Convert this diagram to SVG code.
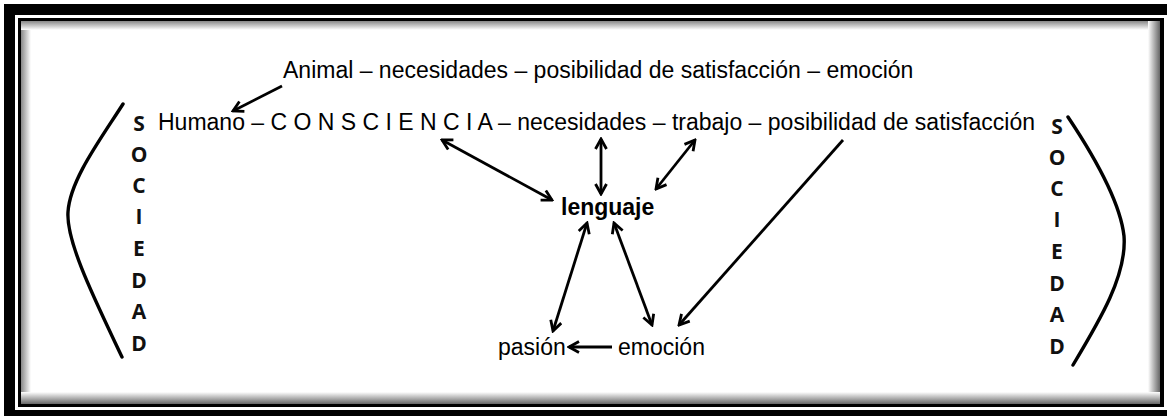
<svg xmlns="http://www.w3.org/2000/svg" width="1167" height="416" viewBox="0 0 1167 416">
  <style>
    .t { font-family: "Liberation Sans", Arial, sans-serif; font-size: 23px; fill: #000; }
    .b { font-weight: bold; }
    .soc { font-family: "Open Sans", Lato, sans-serif; font-weight: bold; font-size: 21px; fill: #111; text-anchor: middle; }
    .arr { stroke: #000; stroke-width: 2.8; fill: none; }
    .par { stroke: #000; stroke-width: 3.4; fill: none; stroke-linecap: round; }
  </style>
  <defs>
    <marker id="ah" viewBox="0 0 14 14" refX="12" refY="7" markerWidth="14" markerHeight="14" markerUnits="userSpaceOnUse" orient="auto-start-reverse">
      <path d="M2,1.5 L12,7 L2,12.5" fill="none" stroke="#000" stroke-width="2.8"/>
    </marker>
    <linearGradient id="gL" x1="0" y1="0" x2="1" y2="0">
      <stop offset="0" stop-color="#888"/>
      <stop offset="1" stop-color="#fff"/>
    </linearGradient>
    <linearGradient id="gR" x1="1" y1="0" x2="0" y2="0">
      <stop offset="0" stop-color="#666"/>
      <stop offset="1" stop-color="#fff"/>
    </linearGradient>
    <linearGradient id="gT" x1="0" y1="0" x2="0" y2="1">
      <stop offset="0" stop-color="#888"/>
      <stop offset="1" stop-color="#fff"/>
    </linearGradient>
    <linearGradient id="gB" x1="0" y1="1" x2="0" y2="0">
      <stop offset="0" stop-color="#666"/>
      <stop offset="1" stop-color="#fff"/>
    </linearGradient>
  </defs>

  <g id="frame">
    <rect x="0" y="0" width="1167" height="416" fill="#fff"/>
    <rect x="4" y="4" width="1180" height="430" fill="#000"/>
    <rect x="15" y="15" width="1160" height="395" fill="#fff"/>
    <rect x="18" y="18" width="1146" height="389" fill="#000"/>
    <rect x="21" y="21" width="1139" height="383" fill="#fff"/>
    <rect x="21" y="21" width="10" height="383" fill="url(#gL)"/>
    <rect x="21" y="21" width="1139" height="9" fill="url(#gT)"/>
    <rect x="1148" y="21" width="12" height="383" fill="url(#gR)"/>
    <rect x="21" y="392" width="1139" height="12" fill="url(#gB)"/>
  </g>

  <g id="connectors">
    <line class="arr" x1="282" y1="86" x2="233" y2="111" marker-end="url(#ah)"/>
    <line class="arr" x1="442" y1="140" x2="552" y2="200" marker-start="url(#ah)" marker-end="url(#ah)"/>
    <line class="arr" x1="601" y1="139" x2="601" y2="194" marker-start="url(#ah)" marker-end="url(#ah)"/>
    <line class="arr" x1="695" y1="140" x2="656" y2="189" marker-start="url(#ah)" marker-end="url(#ah)"/>
    <line class="arr" x1="843" y1="140" x2="679" y2="325" marker-end="url(#ah)"/>
    <line class="arr" x1="587" y1="223" x2="553" y2="331" marker-start="url(#ah)" marker-end="url(#ah)"/>
    <line class="arr" x1="614" y1="223" x2="652" y2="325" marker-start="url(#ah)" marker-end="url(#ah)"/>
    <line class="arr" x1="612" y1="347" x2="569" y2="347" marker-end="url(#ah)"/>
  </g>

  <g id="node-animal">
    <text class="t" x="283" y="78">Animal – necesidades – posibilidad de satisfacción – emoción</text>
  </g>
  <g id="node-humano">
    <text class="t" x="158" y="130">Humano – C O N S C I E N C I A – necesidades – trabajo – posibilidad de satisfacción</text>
  </g>
  <g id="node-lenguaje">
    <text class="t b" x="561" y="215">lenguaje</text>
  </g>
  <g id="node-pasion">
    <text class="t" x="498" y="355">pasión</text>
  </g>
  <g id="node-emocion">
    <text class="t" x="618" y="355">emoción</text>
  </g>

  <g id="sociedad-left">
    <path class="par" d="M123,104 C100,140 70,180 68,212 C66,242 95,300 122,357"/>
    <text class="soc" x="139" y="131">S</text>
    <text class="soc" x="139" y="162">O</text>
    <text class="soc" x="139" y="193">C</text>
    <text class="soc" x="139" y="224">I</text>
    <text class="soc" x="139" y="256">E</text>
    <text class="soc" x="139" y="288">D</text>
    <text class="soc" x="139" y="319">A</text>
    <text class="soc" x="139" y="351">D</text>
  </g>
  <g id="sociedad-right">
    <path class="par" d="M1068,117 C1090,150 1120,200 1124,236 C1127,275 1100,320 1073,365"/>
    <text class="soc" x="1057" y="134">S</text>
    <text class="soc" x="1057" y="165">O</text>
    <text class="soc" x="1057" y="196">C</text>
    <text class="soc" x="1057" y="227">I</text>
    <text class="soc" x="1057" y="259">E</text>
    <text class="soc" x="1057" y="291">D</text>
    <text class="soc" x="1057" y="322">A</text>
    <text class="soc" x="1057" y="354">D</text>
  </g>
</svg>
